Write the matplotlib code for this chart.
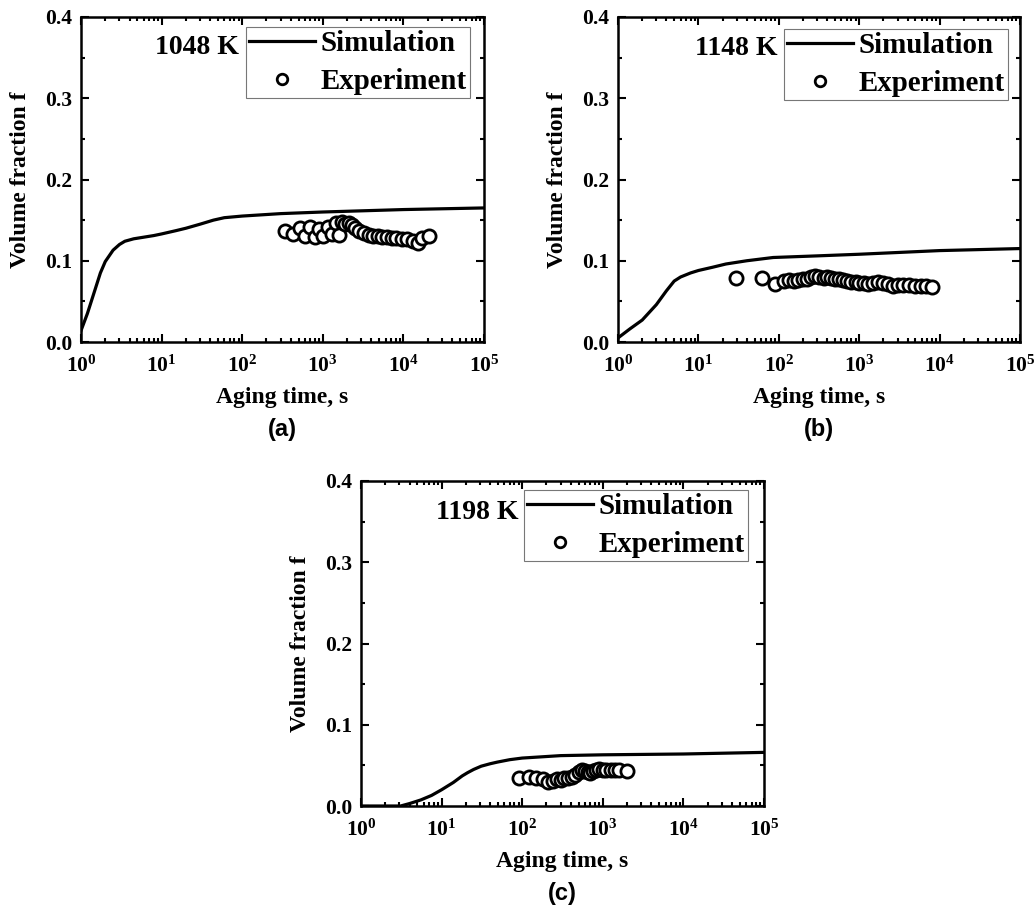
import matplotlib
matplotlib.use("Agg")
import matplotlib.pyplot as plt
from matplotlib.ticker import LogLocator, MultipleLocator, FixedLocator, NullFormatter

plt.rcParams['font.family'] = 'Liberation Serif'
plt.rcParams['font.weight'] = 'bold'
plt.rcParams['mathtext.fontset'] = 'custom'
plt.rcParams['mathtext.rm'] = 'Liberation Serif:bold'
plt.rcParams['mathtext.bf'] = 'Liberation Serif:bold'
plt.rcParams['mathtext.it'] = 'Liberation Serif:bold'

# ---- 1048 K ----
sim_t_a = [1, 1.2, 1.5, 1.74, 2, 2.5, 3, 3.5, 4.5, 6, 8, 10, 15, 20, 30, 44, 60, 100, 300,
           1000, 1e4, 1e5]
sim_f_a = [0.014, 0.035, 0.065, 0.085, 0.099, 0.113, 0.120, 0.124, 0.127, 0.129, 0.131, 0.133,
           0.137, 0.140, 0.145, 0.150, 0.153, 0.155, 0.158, 0.160, 0.163, 0.165]
exp_t_a = [340, 430, 520, 600, 700, 800, 900, 1000, 1150, 1300, 1450, 1600, 1750, 1900,
           2100, 2300, 2500, 2800, 3200, 3700, 4200, 4800, 5500, 6300, 7200, 8200, 9500,
           11000, 13000, 15000, 17000, 20500]
exp_f_a = [0.137, 0.133, 0.140, 0.131, 0.142, 0.129, 0.139, 0.130, 0.141, 0.133, 0.147, 0.132,
           0.148, 0.145, 0.147, 0.144, 0.140, 0.137, 0.134, 0.132, 0.131, 0.130, 0.129, 0.129,
           0.128, 0.128, 0.127, 0.127, 0.124, 0.122, 0.128, 0.131]

# ---- 1148 K ----
sim_t_b = [1, 1.4, 2, 3, 4, 5, 6, 8, 10, 15, 22, 40, 85, 300, 1000, 1e4, 1e5]
sim_f_b = [0.005, 0.016, 0.027, 0.046, 0.063, 0.075, 0.080, 0.085, 0.088, 0.092, 0.096, 0.100,
           0.104, 0.106, 0.108, 0.1125, 0.115]
exp_t_b = [29, 62, 90, 115, 135, 155, 175, 200, 225, 255, 285, 320, 360, 400, 450, 500, 560,
           630, 700, 800, 900, 1000, 1150, 1300, 1500, 1700, 2000, 2300, 2600, 3000, 3500,
           4200, 5000, 5800, 6800, 8000]
exp_f_b = [0.079, 0.079, 0.072, 0.075, 0.076, 0.075, 0.076, 0.077, 0.078, 0.080, 0.081, 0.080,
           0.079, 0.080, 0.079, 0.078, 0.078, 0.076, 0.075, 0.074, 0.074, 0.073, 0.073, 0.072,
           0.073, 0.074, 0.073, 0.071, 0.069, 0.070, 0.070, 0.070, 0.069, 0.069, 0.069, 0.068]

# ---- 1198 K ----
sim_t_c = [1, 3.1, 4, 5.5, 7.5, 10, 14, 18, 21, 25, 31, 40, 49, 70, 100, 300, 1000, 1e4, 1e5]
sim_f_c = [0.0, 0.0, 0.003, 0.0074, 0.013, 0.020, 0.029, 0.037, 0.041, 0.045, 0.049, 0.052,
           0.054, 0.057, 0.059, 0.062, 0.063, 0.064, 0.066]
exp_t_c = [90, 120, 150, 180, 210, 240, 270, 300, 330, 370, 410, 450, 500, 550, 600, 650, 700,
           760, 830, 900, 1000, 1100, 1250, 1400, 1600, 2000]
exp_f_c = [0.035, 0.036, 0.034, 0.033, 0.029, 0.031, 0.033, 0.032, 0.034, 0.035, 0.036, 0.038,
           0.042, 0.044, 0.043, 0.042, 0.041, 0.043, 0.044, 0.045, 0.044, 0.044, 0.044, 0.044,
           0.044, 0.043]

temps = ['1048 K', '1148 K', '1198 K']
panel_tags = ['(a)', '(b)', '(c)']
x_ticks = [1, 10, 100, 1000, 10000, 100000]
x_tick_labels = [r'$10^{0}$', r'$10^{1}$', r'$10^{2}$', r'$10^{3}$', r'$10^{4}$', r'$10^{5}$']
y_ticks = [0.0, 0.1, 0.2, 0.3, 0.4]
y_tick_labels = ['0.0', '0.1', '0.2', '0.3', '0.4']

W, H = 1034, 907
fig = plt.figure(figsize=(W / 100, H / 100), dpi=100)

# axes boxes in pixels: left, top, right, bottom
boxes = [(81, 17, 484, 342), (618, 17, 1020, 342), (361, 481, 764, 806)]
legend_anchor = [(0.965, 0.969), (0.970, 0.963), (0.960, 0.972)]
temp_pos = [(0.392, 0.905), (0.396, 0.902), (0.390, 0.902)]

series = [
    (sim_t_a, sim_f_a, exp_t_a, exp_f_a),
    (sim_t_b, sim_f_b, exp_t_b, exp_f_b),
    (sim_t_c, sim_f_c, exp_t_c, exp_f_c),
]

for i, (st, sf, et, ef) in enumerate(series):
    l, t, r, b = boxes[i]
    ax = fig.add_axes([l / W, 1 - b / H, (r - l) / W, (b - t) / H])
    ax.plot(st, sf, color='black', lw=2.3, label='Simulation', solid_joinstyle='round')
    ax.plot(et, ef, linestyle='none', marker='o', ms=9.5, mfc='white', mec='black',
            mew=2.0, label='Experiment')
    ax.set_xscale('log')
    ax.set_xlim(1, 1e5)
    ax.set_ylim(0, 0.4)

    ax.xaxis.set_major_locator(FixedLocator(x_ticks))
    ax.set_xticklabels(x_tick_labels)
    ax.xaxis.set_minor_locator(LogLocator(base=10, subs=range(2, 10), numticks=20))
    ax.xaxis.set_minor_formatter(NullFormatter())
    ax.set_yticks(y_ticks)
    ax.set_yticklabels(y_tick_labels)
    ax.yaxis.set_minor_locator(MultipleLocator(0.05))

    ax.tick_params(which='both', direction='in', top=True, right=True, width=1.5,
                   labelsize=15.5)
    ax.tick_params(which='major', length=6)
    ax.tick_params(which='minor', length=3)
    ax.tick_params(axis='y', which='major', pad=6.5)
    ax.tick_params(axis='x', which='major', pad=10)
    for sp in ax.spines.values():
        sp.set_linewidth(1.8)

    ax.set_xlabel('Aging time, s', fontsize=17, fontweight='bold', labelpad=7)
    ax.set_ylabel('Volume fraction f', fontsize=17, fontweight='bold', labelpad=10)

    leg = ax.legend(loc='upper right', bbox_to_anchor=legend_anchor[i], borderaxespad=0,
                    fontsize=20.8, frameon=True, fancybox=False, handlelength=2.3,
                    handletextpad=0.2, borderpad=0.1, labelspacing=0.38, markerscale=0.8)
    leg.get_frame().set_edgecolor('#555555')
    leg.get_frame().set_linewidth(0.8)

    ax.text(temp_pos[i][0], temp_pos[i][1], temps[i], transform=ax.transAxes,
            ha='right', va='center', fontsize=20, fontweight='bold')
    ax.text(0.5, -0.27, panel_tags[i], transform=ax.transAxes, ha='center', va='center',
            fontsize=17, fontweight='bold', family='Liberation Sans')

fig.savefig('out.png', dpi=100)
